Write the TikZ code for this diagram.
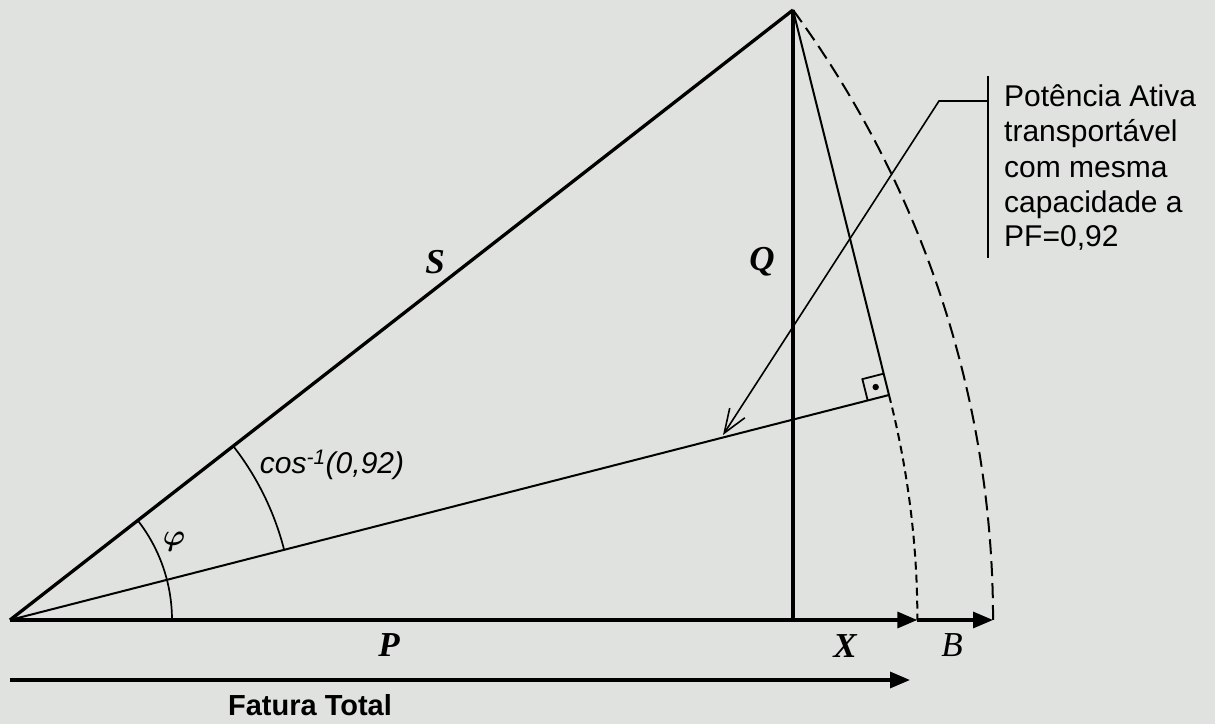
\documentclass[tikz,border=0pt]{standalone}
\usepackage{fontspec}
\setmainfont{Liberation Serif}
\setsansfont{Liberation Sans}
\usetikzlibrary{arrows.meta,calc,backgrounds}
\definecolor{paper}{RGB}{224,226,223}

\begin{document}
\begin{tikzpicture}[x=1pt,y=1pt,
  vec/.style={line width=3.3pt},
  aux/.style={line width=2pt},
  tip/.style={-{Triangle[length=20pt,width=16pt]}},
  lbl/.style={font=\fontsize{35}{40}\selectfont\bfseries\itshape,inner sep=0pt},
  txt/.style={font=\sffamily\fontsize{30}{35}\selectfont,inner sep=0pt}]
  \fill[paper] (0,0) rectangle (1215,724);
  \useasboundingbox (0,0) rectangle (1215,724);
  % triangle corners
  \coordinate (o) at (10,104);
  \coordinate (t) at (793,714);
  \coordinate (qb) at (793,104);
  \coordinate (f) at (889,329);
  \coordinate (xe) at (917.3,104);
  \coordinate (be) at (993,104);
  % sides
  \draw[vec] (o)--(t);
  \draw[line width=3.8pt] (t)--(qb);
  \draw[aux] (o)--(f);\draw[aux] (t)--(f);
  \draw[vec,tip] (o)--(xe);\draw[vec,tip] (xe)--(be);
  % arcs
  \draw[aux,dash pattern=on 8pt off 5pt] (f) arc[start angle=14.36,end angle=0,radius=907.3];
  \draw[aux,dash pattern=on 15pt off 7pt] (t) arc[start angle=36.31,end angle=0,radius=1030];
  \draw[line width=1.7pt] ($(o)+(162,0)$) arc[start angle=0,end angle=37.92,radius=162];
  \draw[line width=1.7pt] ($(o)+(14.36:283)$) arc[start angle=14.36,end angle=37.92,radius=283];
  % right angle mark
  \coordinate (ra) at ($(f)!22pt!(o)$);
  \coordinate (rc) at ($(f)!22pt!(t)$);
  \coordinate (rb) at ($(ra)+(rc)-(f)$);
  \draw[line width=1.8pt] (ra)--(rb)--(rc);
  \fill ($(f)!0.5!(rb)$) circle (3.2pt);
  % labels
  \node[lbl] (s) at (435,462) {S};
  \node[lbl] (q) at (762,462) {Q};
  \node[lbl] (p) at (389,79) {P};
  \node[lbl] (x) at (845,78) {X};
  \node[lbl,font=\fontsize{35}{40}\selectfont\itshape] (b) at (952,79) {B};
  \node[inner sep=0pt,scale=3] (phi) at (174,182) {{\mathversion{bold}$\varphi$}};
  \node[txt,font=\sffamily\itshape\fontsize{30}{36}\selectfont] (ang) at (332,259) {cos\textsuperscript{-1}(0,92)};
  % total bill
  \coordinate (fa) at (10,44);
  \coordinate (fb) at (910,44);
  \draw[vec,tip] (fa)--(fb);
  \node[txt,font=\sffamily\bfseries\fontsize{29}{33}\selectfont] (fat) at (310,19) {Fatura Total};
  % callout
  \coordinate (bt) at (988,648);
  \coordinate (bb) at (988,466);
  \coordinate (lb) at (988,623);
  \coordinate (lk) at (939,623);
  \coordinate (lt) at (723,289);
  \draw[line width=1.6pt] (bt)--(bb);
  \draw[line width=1.6pt,-{Straight Barb[length=24pt,width=18pt]}] (lb)--(lk)--(lt);
  \node[txt,anchor=west,align=left] (pa) at (1004,556) {Potência Ativa\\transportável\\com mesma\\capacidade a\\PF=0,92};
\end{tikzpicture}
\end{document}
